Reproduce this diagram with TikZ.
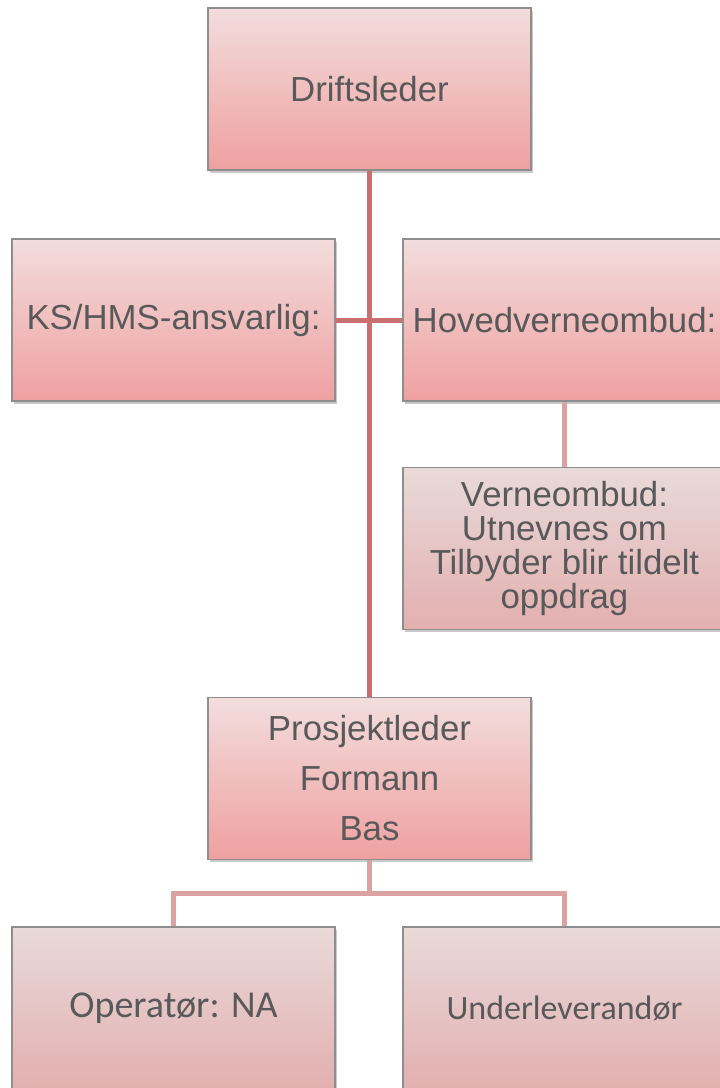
\documentclass[tikz,border=0pt]{standalone}
\usepackage{fontspec}
\setmainfont{Liberation Sans}
\newfontfamily\carlitofont{Carlito}
\usetikzlibrary{shadows}

\definecolor{txt}{HTML}{595959}
\definecolor{edge}{HTML}{8E8E8E}
\definecolor{mainline}{HTML}{C96F6F}
\definecolor{subline}{HTML}{DBA2A2}
\definecolor{topA}{HTML}{F3DDDD}
\definecolor{botA}{HTML}{EFA0A0}
\definecolor{topB}{HTML}{E9DADA}
\definecolor{botB}{HTML}{E3AFAF}

\tikzset{
  x=1pt, y=-1pt,
  orgbox/.style={draw=edge, line width=1.2pt, minimum width=323pt, minimum height=162pt,
    inner sep=2pt, text=txt, align=center, font=\fontsize{34.8}{34}\selectfont,
    drop shadow={opacity=0.35, shadow xshift=1.5pt, shadow yshift=-2.5pt, fill=black!60}},
  levelA/.style={orgbox, top color=topA, bottom color=botA},
  levelB/.style={orgbox, top color=topB, bottom color=botB},
  mainlink/.style={draw=mainline, line width=5pt},
  sublink/.style={draw=subline, line width=5pt},
}

\begin{document}
\begin{tikzpicture}
\clip (0,0) rectangle (720,1088);
\fill[white] (0,0) rectangle (720,1088);

\coordinate (split) at (369.5,893);

\node[levelA] (drift) at (369.5,89) {Driftsleder};
\node[levelA] (ks) at (173.5,320) {KS/HMS-ansvarlig:};
\node[levelA] (hvo) at (564.5,320) {Hovedverneombud:};
\node[levelB] (vo) at (564.5,548.5) {Verneombud:\\Utnevnes om\\Tilbyder blir tildelt\\oppdrag};
\node[levelA, font=\fontsize{34.8}{50}\selectfont] (pl) at (369.5,778.5) {Prosjektleder\\Formann\\Bas};
\node[levelB, font=\carlitofont\fontsize{38}{38}\selectfont] (op) at (173.5,1008) {Operatør: NA};
\node[levelB, font=\carlitofont\fontsize{34}{34}\selectfont] (ul) at (564.5,1008) {Underleverandør};

\draw[mainlink] (drift.south) -- (pl.north);
\draw[mainlink] (ks.east) -- (hvo.west);
\draw[sublink] (hvo.south -| vo.north) -- (vo.north);
\draw[sublink] (pl.south) -- (split);
\draw[sublink] (op.north) |- (split) -| (ul.north);
\end{tikzpicture}
\end{document}
